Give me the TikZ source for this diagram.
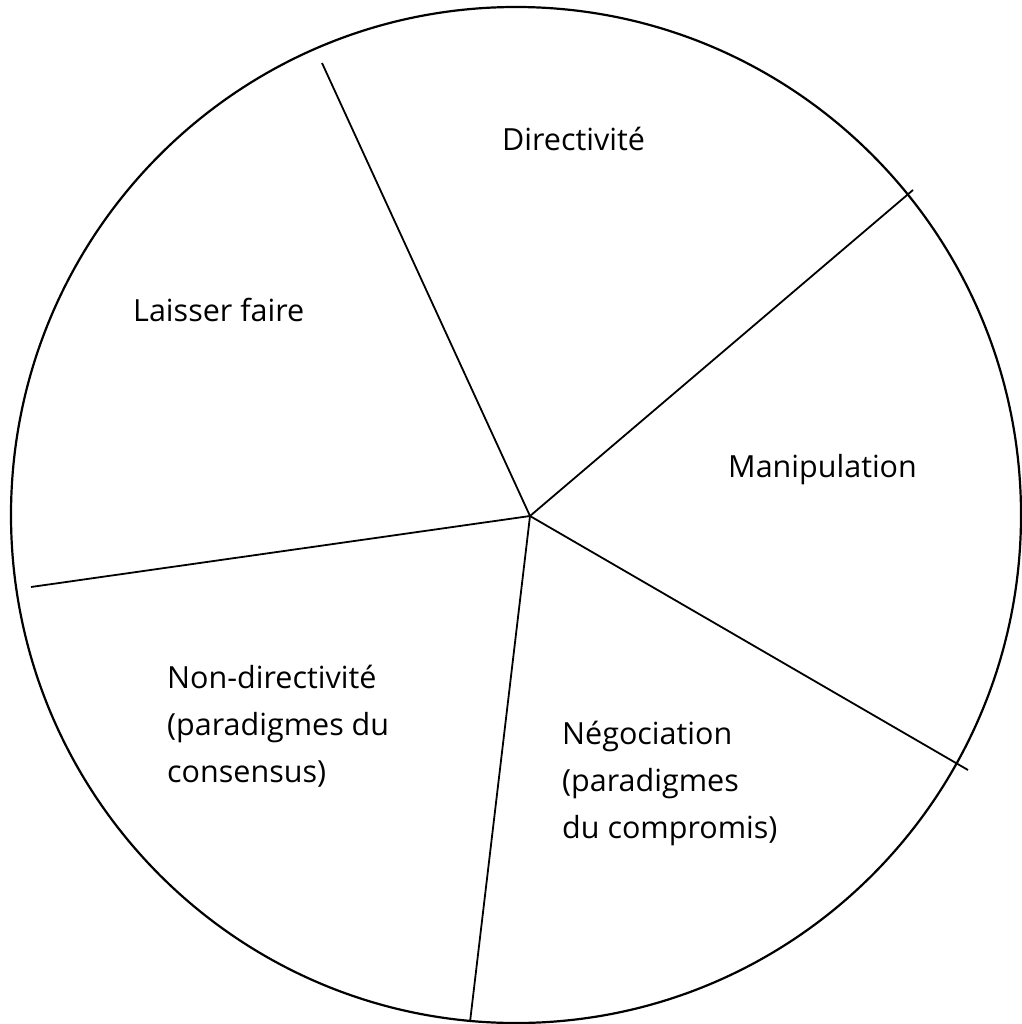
\documentclass[tikz,border=0pt]{standalone}
\usepackage{fontspec}
\setmainfont{Open Sans}
\begin{document}
\begin{tikzpicture}[x=1pt,y=-1pt,
  rim/.style={line width=2.2pt},
  spoke/.style={line width=1.8pt},
  lab/.style={anchor=base west,inner sep=0pt,align=left,font=\fontsize{30.5}{47}\selectfont}]
\useasboundingbox (0,0) rectangle (1021,1024);
\draw[rim] (516,515) ellipse [x radius=505, y radius=508];
\coordinate (c) at (530,516);
\coordinate (p1) at (322,63);
\coordinate (p2) at (913,190);
\coordinate (p3) at (968,770);
\coordinate (p4) at (470,1022);
\coordinate (p5) at (31,587);
\foreach \p in {p1,p2,p3,p4,p5} \draw[spoke] (c) -- (\p);
\node[lab] (dir) at (502,151) {Directivité};
\node[lab] (lai) at (133,321) {Laisser faire};
\node[lab] (man) at (728,477) {Manipulation};
\node[lab] (non) at (167,782) {Non-directivité\\(paradigmes du\\consensus)};
\node[lab] (neg) at (562,838) {Négociation\\(paradigmes\\du compromis)};
\end{tikzpicture}
\end{document}
